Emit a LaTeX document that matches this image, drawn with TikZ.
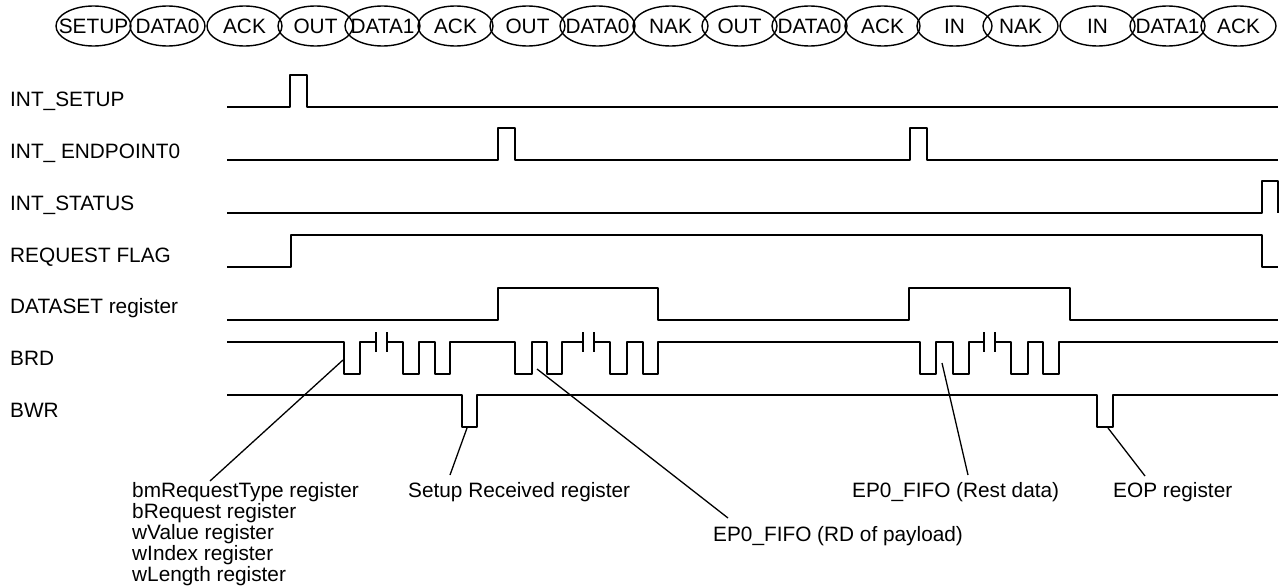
\documentclass[tikz,border=0pt]{standalone}
\usepackage{fontspec}
\setmainfont{Liberation Sans}
\usetikzlibrary{shapes.geometric}
\begin{document}
\begin{tikzpicture}[x=1pt,y=-1pt,
  every node/.style={font=\fontsize{20.8}{21}\selectfont, inner sep=0pt},
  pkt/.style={draw, ellipse, line width=1.4pt, minimum width=75pt, minimum height=40pt, inner sep=0pt, label={center:#1}},
  wave/.style={line width=2pt, line join=round},
  tick/.style={line width=2pt},
  callout/.style={line width=1.3pt},
  sig/.style={anchor=base west},
  note/.style={anchor=base west, align=left}]
\useasboundingbox (0,0) rectangle (1282,588);

% packet ellipses
\foreach \x/\t [count=\i] in {93.5/SETUP,167.5/DATA0,244.5/ACK,315.5/OUT,382.5/DATA1,455.5/ACK,527.5/OUT,597.5/DATA0,670.5/NAK,739.5/OUT,809.5/DATA0,882.5/ACK,954.5/IN,1020.5/NAK,1097.5/IN,1167.5/DATA1,1238.5/ACK}
  \node[pkt=\t] (e\i) at (\x,26) {};

% signal labels
\node[sig] (l1) at (10,107) {INT\_SETUP};
\node[sig] (l2) at (10,158.7) {INT\_ ENDPOINT0};
\node[sig] (l3) at (10,210.4) {INT\_STATUS};
\node[sig] (l4) at (10,262.1) {REQUEST FLAG};
\node[sig] (l5) at (10,313.8) {DATASET register};
\node[sig] (l6) at (10,365.5) {BRD};
\node[sig] (l7) at (10,417.2) {BWR};

% waveforms
\draw[wave] (227,107) -- (290,107) -- (290,75) -- (307,75) -- (307,107) -- (1278,107);
\draw[wave] (227,160) -- (498,160) -- (498,128) -- (515,128) -- (515,160) -- (910,160) -- (910,128) -- (927,128) -- (927,160) -- (1278,160);
\draw[wave] (227,213) -- (1262,213) -- (1262,181) -- (1278,181) -- (1278,213);
\draw[wave] (227,267) -- (291,267) -- (291,235) -- (1262,235) -- (1262,267) -- (1278,267);
\draw[wave] (227,320) -- (498,320) -- (498,288) -- (658,288) -- (658,320) -- (909,320) -- (909,288) -- (1070,288) -- (1070,320) -- (1278,320);
% BRD
\draw[wave] (227,342) -- (344,342) -- (344,374) -- (360,374) -- (360,342) -- (376,342);
\draw[tick] (376,332) -- (376,352);
\draw[tick] (387,332) -- (387,352);
\draw[wave] (387,342) -- (403,342) -- (403,374) -- (419,374) -- (419,342) -- (435,342) -- (435,374) -- (450,374) -- (450,342) -- (515,342) -- (515,374) -- (532,374) -- (532,342) -- (547,342) -- (547,374) -- (562,374) -- (562,342) -- (583,342);
\draw[tick] (583,332) -- (583,352);
\draw[tick] (594,332) -- (594,352);
\draw[wave] (594,342) -- (610,342) -- (610,374) -- (627,374) -- (627,342) -- (643,342) -- (643,374) -- (658,374) -- (658,342) -- (920,342) -- (920,374) -- (936,374) -- (936,342) -- (953,342) -- (953,374) -- (969,374) -- (969,342) -- (984,342);
\draw[tick] (984,332) -- (984,352);
\draw[tick] (995,332) -- (995,352);
\draw[wave] (995,342) -- (1011,342) -- (1011,374) -- (1028,374) -- (1028,342) -- (1043,342) -- (1043,374) -- (1059,374) -- (1059,342) -- (1278,342);
% BWR
\draw[wave] (227,395) -- (462,395) -- (462,427) -- (477,427) -- (477,395) -- (1097,395) -- (1097,427) -- (1113,427) -- (1113,395) -- (1278,395);

% callout texts
\node[note] (c1) at (132,581) {bmRequestType register\\bRequest register\\wValue register\\wIndex register\\wLength register};
\node[note] (c2) at (408,497) {Setup Received register};
\node[note] (c3) at (713,541) {EP0\_FIFO (RD of payload)};
\node[note] (c4) at (852,497) {EP0\_FIFO (Rest data)};
\node[note] (c5) at (1113,497) {EOP register};

% callout end points
\coordinate (p1) at (343,360);
\coordinate (q1) at (210,481);
\coordinate (p2) at (467,428);
\coordinate (q2) at (450,475);
\coordinate (p3) at (537,369);
\coordinate (q3) at (728,518);
\coordinate (p4) at (942,363);
\coordinate (q4) at (968,475);
\coordinate (p5) at (1108,428);
\coordinate (q5) at (1145,476);

\draw[callout] (p1) -- (q1);
\draw[callout] (p2) -- (q2);
\draw[callout] (p3) -- (q3);
\draw[callout] (p4) -- (q4);
\draw[callout] (p5) -- (q5);
\end{tikzpicture}
\end{document}
